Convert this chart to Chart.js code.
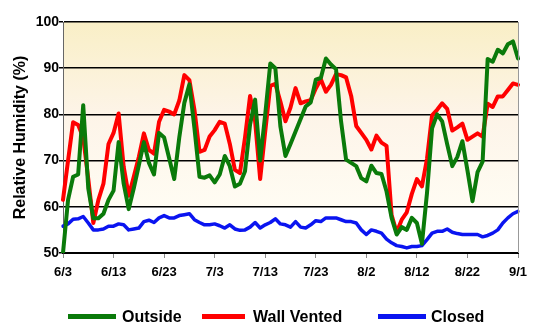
<!DOCTYPE html>
<html>
<head>
<meta charset="utf-8">
<script src="https://cdn.jsdelivr.net/npm/chart.js@4/dist/chart.umd.min.js"></script>
<style>
  html, body { margin: 0; padding: 0; background: #fff; }
  #wrap { position: relative; width: 556px; height: 328px; }
  #legend { position: absolute; left: 0; top: 307px; width: 556px; height: 20px;
            font: bold 16px 'Liberation Sans', Arial, sans-serif; line-height: 20px; color: #000; }
  #legend .sw { position: absolute; top: 7px; height: 5px; }
  #legend .tx { position: absolute; top: 0; white-space: nowrap; }
</style>
</head>
<body>
<div id="wrap">
  <canvas id="myChart" width="556" height="328"></canvas>
  <div id="legend"></div>
</div>
<script>
// dates, 6/3 .. 9/1
let days = [
 '6/3','6/4','6/5','6/6','6/7','6/8','6/9','6/10','6/11','6/12',
 '6/13','6/14','6/15','6/16','6/17','6/18','6/19','6/20','6/21','6/22',
 '6/23','6/24','6/25','6/26','6/27','6/28','6/29','6/30','7/1','7/2',
 '7/3','7/4','7/5','7/6','7/7','7/8','7/9','7/10','7/11','7/12',
 '7/13','7/14','7/15','7/16','7/17','7/18','7/19','7/20','7/21','7/22',
 '7/23','7/24','7/25','7/26','7/27','7/28','7/29','7/30','7/31','8/1',
 '8/2','8/3','8/4','8/5','8/6','8/7','8/8','8/9','8/10','8/11',
 '8/12','8/13','8/14','8/15','8/16','8/17','8/18','8/19','8/20','8/21',
 '8/22','8/23','8/24','8/25','8/26','8/27','8/28','8/29','8/30','8/31',
 '9/1'
];
let shownDays = ['6/3','6/13','6/23','7/3','7/13','7/23','8/2','8/12','8/22','9/1'];

let outside = [
 50, 61.5, 66.5, 67, 82, 64, 57.5, 57.5, 58.5, 61.5,
 63.5, 74, 65, 59.5, 64, 69, 74, 69.5, 67, 76,
 75, 70.5, 66, 75, 82.5, 86.5, 77, 66.5, 66.3, 66.8,
 65.3, 67, 71, 68.8, 64.4, 65, 67.7, 77.8, 83.2, 70,
 80, 91, 90, 77.4, 71, 73.6, 76.3, 79, 81.7, 82.6,
 87.5, 87.9, 92.1, 90.8, 89.8, 78.5, 70.2, 69.5, 68.8, 66.2,
 65.5, 68.9, 67.3, 67.1, 63.3, 57.6, 54, 55.6, 55, 57.6,
 56.5, 52, 63, 77, 80, 78.5, 73.5, 68.8, 70.8, 74.2,
 67.9, 61.2, 67.5, 69.8, 92, 91.4, 94, 93.2, 95.2, 95.8,
 92.1
];
let wallVented = [
 61.5, 70, 78.3, 77.7, 75, 66, 56.5, 61.5, 65, 73.6,
 76, 80.2, 68.7, 62.4, 66.5, 70.8, 75.9, 72.3, 71.5, 78.4,
 81, 80.6, 80, 83, 88.5, 87.4, 81, 71.9, 72.3, 75.2,
 76.6, 78.4, 78, 73.6, 68, 67.3, 75, 84, 78.5, 66,
 76.3, 86.2, 86.6, 82.8, 78.5, 81.5, 85.7, 82.4, 82.8, 83.1,
 85.6, 87.6, 84.9, 86.4, 88.7, 88.5, 88, 84, 77.5, 76,
 74.5, 72.4, 75.4, 73.9, 73.2, 58.2, 54.5, 57.2, 58.8, 62.8,
 66, 64.4, 70.4, 79.8, 81, 82.4, 81.2, 76.5, 77.2, 78,
 74.5, 75.2, 75.9, 75.2, 82.3, 81.6, 83.9, 83.9, 85.3, 86.7,
 86.4
];
let closed = [
 55.8, 56.3, 57.3, 57.4, 57.9, 56.5, 55, 55, 55.2, 55.8,
 55.8, 56.3, 56.1, 55, 55.2, 55.4, 56.8, 57.1, 56.6, 57.6,
 58.1, 57.6, 57.6, 58.1, 58.3, 58.5, 57.2, 56.6, 56.1, 56.1,
 56.3, 55.9, 55.4, 56.1, 55.2, 54.9, 55, 55.6, 56.6, 55.4,
 56.1, 56.6, 57.4, 56.3, 56.1, 55.6, 56.8, 55.6, 55.4, 56.1,
 57, 56.8, 57.6, 57.6, 57.6, 57.2, 56.8, 56.8, 56.5, 55,
 54, 55, 54.7, 54.3, 53, 52.2, 51.6, 51.4, 51.1, 51.4,
 51.4, 51.6, 52.9, 54.3, 54.7, 54.7, 55.2, 54.5, 54.2, 54,
 54, 54, 54, 53.5, 53.8, 54.3, 55, 56.5, 57.6, 58.5,
 59
];
let yTicks = [50, 60, 70, 80, 90, 100];

const FONT = "'Liberation Sans', Arial, sans-serif";

// cream gradient behind the plot + grey right edge
const plotBg = {
    id: 'plotBg',
    beforeDraw(chart) {
        const { ctx, chartArea: a, scales: { y } } = chart;
        const y60 = y.getPixelForValue(60);
        const g = ctx.createLinearGradient(0, a.top, 0, y60);
        g.addColorStop(0, '#f9efc6');
        g.addColorStop(0.5, '#fdf4e8');
        g.addColorStop(1, '#fffcf3');
        ctx.save();
        ctx.fillStyle = g;
        ctx.fillRect(a.left, a.top, a.right - a.left, y60 - a.top);
        ctx.restore();
    },
    afterDatasetsDraw(chart) {
        const { ctx, chartArea: a } = chart;
        ctx.save();
        ctx.strokeStyle = '#999';
        ctx.lineWidth = 1;
        ctx.beginPath();
        ctx.moveTo(a.right + 0.5, a.top);
        ctx.lineTo(a.right + 0.5, a.bottom);
        ctx.stroke();
        ctx.restore();
    }
};

var ctx = document.getElementById('myChart').getContext('2d');
var chart = new Chart(ctx, {
    type: 'line',
    data: {
        labels: days,
        datasets: [{
            label: 'Outside',
            data: outside,
            borderColor: '#0a7a0a',
            backgroundColor: '#0a7a0a',
            borderWidth: 4
        },
        {
            label: 'Wall Vented',
            data: wallVented,
            borderColor: '#ff0000',
            backgroundColor: '#ff0000',
            borderWidth: 4
        },
        {
            label: 'Closed',
            data: closed,
            borderColor: '#0a14f0',
            backgroundColor: '#0a14f0',
            borderWidth: 3.5
        }]
    },
    options: {
        responsive: false,
        animation: false,
        elements: { point: { radius: 0 }, line: { tension: 0, borderJoinStyle: 'round', borderCapStyle: 'round' } },
        layout: { padding: { left: 0, right: 38, top: 22, bottom: 0 } },
        plugins: {
            tooltip: { enabled: false },
            legend: { display: false }
        },
        scales: {
            x: {
                offset: false,
                afterFit: s => { s.height = 75; },
                ticks: {
                    autoSkip: false,
                    maxRotation: 0,
                    color: '#000',
                    padding: 7,
                    font: { family: FONT, size: 13, weight: 'bold' },
                    callback: function (v) {
                        const l = this.getLabelForValue(v);
                        return shownDays.includes(l) ? l : null;
                    }
                },
                grid: { drawOnChartArea: false, color: '#888', tickLength: 5 },
                border: { color: '#000', width: 2 }
            },
            y: {
                min: 50,
                max: 100,
                afterFit: s => { s.width = 63; },
                afterBuildTicks: s => { s.ticks = yTicks.map(v => ({ value: v })); },
                ticks: {
                    color: '#000',
                    padding: 0,
                    font: { family: FONT, size: 14, weight: 'bold' }
                },
                grid: { color: '#000', lineWidth: 1.5, tickLength: 4 },
                border: { color: '#666', width: 1 },
                title: {
                    display: true,
                    text: 'Relative Humidity (%)',
                    color: '#000',
                    padding: { top: 11, bottom: 0 },
                    font: { family: FONT, size: 16, weight: 'bold' }
                }
            }
        }
    },
    plugins: [plotBg]
});

// legend below the plot, built from the datasets
let legendPos = [
    { sw: 68, w: 48, tx: 122 },
    { sw: 202, w: 43, tx: 253 },
    { sw: 378, w: 48, tx: 431 }
];
let legendEl = document.getElementById('legend');
chart.data.datasets.forEach((d, i) => {
    let p = legendPos[i];
    legendEl.innerHTML +=
        `<span class="sw" style="left:${p.sw}px;width:${p.w}px;background:${d.borderColor}"></span>` +
        `<span class="tx" style="left:${p.tx}px">${d.label}</span>`;
});
</script>
</body>
</html>
